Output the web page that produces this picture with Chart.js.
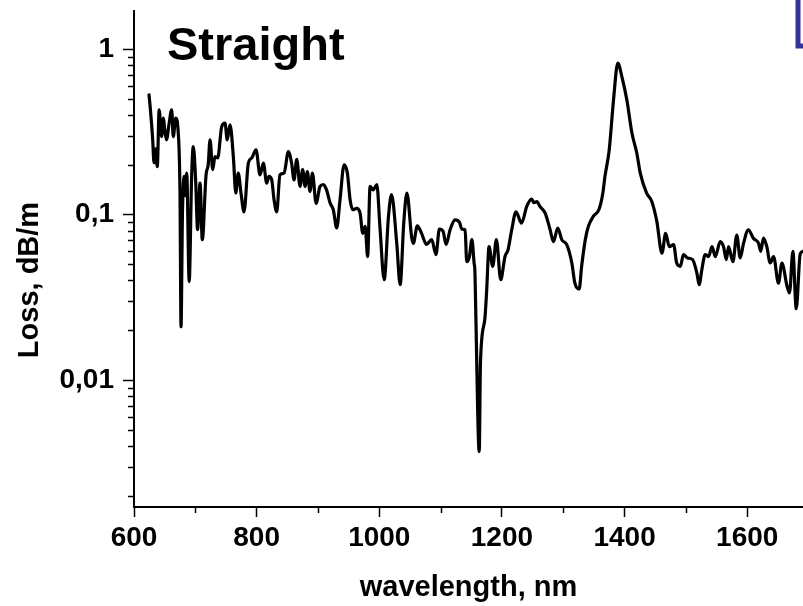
<!DOCTYPE html>
<html>
<head>
<meta charset="utf-8">
<script src="https://cdn.jsdelivr.net/npm/chart.js@4"></script>
<style>
  html, body { margin: 0; padding: 0; background: #fff; }
  #wrap { width: 803px; height: 606px; }
</style>
</head>
<body>
<div id="wrap"><canvas id="myChart" width="803" height="606"></canvas></div>
<script>
// wavelength (nm) and loss (dB/m)
var wavelength = [624.5, 627, 630.5, 632.6, 635, 638, 641, 645, 648, 650, 653, 657, 661.5, 664, 668, 672, 675, 676.7, 679, 682, 684, 686, 690, 694, 696.7, 700.5, 703.7, 707.7, 711.4, 717.5, 721, 724, 728.4, 732, 736.5, 743, 748.5, 752, 756.6, 762, 766, 770, 774.5, 779.4, 786.5, 792, 799, 805.5, 811, 816.4, 820, 824.6, 828.4, 832.8, 838, 844.7, 851.7, 857, 861, 865.4, 870.8, 875, 879, 882.7, 887, 891, 897, 903.4, 909, 914, 920, 925, 930.6, 936, 942.6, 948, 952.4, 957, 963, 968.7, 973, 977, 981, 985, 990, 996, 1001, 1008, 1015, 1020, 1028.5, 1034, 1040, 1045, 1053, 1055.5, 1062, 1069, 1077, 1085.5, 1092.5, 1098, 1104, 1109, 1115.5, 1123.6, 1130.7, 1134.5, 1140, 1142.6, 1147, 1151, 1154.6, 1156, 1157, 1163, 1165, 1172, 1175, 1179, 1185, 1191, 1198, 1205, 1210, 1216, 1223, 1232, 1240.5, 1248.6, 1252, 1257, 1262, 1270.5, 1278.6, 1284, 1291, 1297.6, 1305.7, 1314, 1319, 1326, 1330, 1336, 1341, 1349, 1358.6, 1364.6, 1368, 1375, 1382, 1389, 1395.6, 1403.7, 1412, 1420, 1425.6, 1436, 1444.4, 1452.6, 1461, 1467, 1473, 1480, 1485, 1491, 1496, 1502.6, 1511, 1518, 1521.7, 1526, 1531.5, 1537, 1542.6, 1548, 1556, 1561.4, 1566, 1569.5, 1576.7, 1583, 1588.6, 1594, 1602, 1610, 1618.6, 1622, 1626.6, 1632, 1637.5, 1643, 1651, 1656.6, 1665, 1669, 1674.5, 1680, 1686.5, 1692];
var loss = [0.53, 0.42, 0.283, 0.206, 0.25, 0.195, 0.43, 0.296, 0.383, 0.33, 0.283, 0.35, 0.43, 0.296, 0.383, 0.318, 0.135, 0.021, 0.1, 0.17, 0.13, 0.178, 0.0394, 0.17, 0.258, 0.162, 0.081, 0.155, 0.0705, 0.174, 0.2, 0.283, 0.187, 0.224, 0.22, 0.34, 0.357, 0.283, 0.349, 0.224, 0.135, 0.178, 0.135, 0.104, 0.205, 0.22, 0.246, 0.174, 0.205, 0.155, 0.17, 0.162, 0.123, 0.104, 0.174, 0.178, 0.24, 0.205, 0.162, 0.216, 0.148, 0.187, 0.148, 0.182, 0.138, 0.178, 0.117, 0.148, 0.152, 0.141, 0.117, 0.107, 0.083, 0.123, 0.2, 0.178, 0.123, 0.107, 0.109, 0.102, 0.077, 0.085, 0.0558, 0.148, 0.141, 0.152, 0.085, 0.0404, 0.0975, 0.132, 0.067, 0.0377, 0.09, 0.135, 0.072, 0.067, 0.0855, 0.077, 0.066, 0.0706, 0.0573, 0.0818, 0.0793, 0.066, 0.081, 0.093, 0.09, 0.0818, 0.081, 0.052, 0.0558, 0.0706, 0.051, 0.045, 0.03, 0.0037, 0.0127, 0.0231, 0.034, 0.064, 0.0487, 0.0706, 0.0404, 0.0558, 0.0613, 0.081, 0.104, 0.0887, 0.112, 0.124, 0.118, 0.12, 0.112, 0.102, 0.081, 0.0686, 0.083, 0.0706, 0.0658, 0.051, 0.0385, 0.0355, 0.0487, 0.0706, 0.085, 0.0975, 0.108, 0.135, 0.17, 0.246, 0.494, 0.823, 0.683, 0.494, 0.311, 0.235, 0.178, 0.135, 0.12, 0.091, 0.0585, 0.077, 0.064, 0.0658, 0.051, 0.0487, 0.0573, 0.0547, 0.0534, 0.0442, 0.0377, 0.0464, 0.0573, 0.0558, 0.064, 0.0558, 0.0686, 0.064, 0.0534, 0.064, 0.052, 0.0752, 0.0547, 0.067, 0.081, 0.072, 0.067, 0.06, 0.072, 0.064, 0.051, 0.0558, 0.0385, 0.051, 0.0369, 0.0336, 0.06, 0.027, 0.058, 0.06];

// axis ticks
var xTicks = [600, 800, 1000, 1200, 1400, 1600];
var xMinorTicks = [700, 900, 1100, 1300, 1500];
var yTicks = [0.01, 0.1, 1];
var yTickLabels = ['0,01', '0,1', '1'];
var yMinorTicks = [0.002, 0.003, 0.004, 0.005, 0.006, 0.007, 0.008, 0.009,
                   0.02, 0.03, 0.04, 0.05, 0.06, 0.07, 0.08, 0.09,
                   0.2, 0.3, 0.4, 0.5, 0.6, 0.7, 0.8, 0.9];

var points = wavelength.map(function (w, i) { return { x: w, y: loss[i] }; });

var FONT = '"Liberation Sans", Arial, sans-serif';

// minor ticks, inner title and the clipped legend frame
var extras = {
    id: 'extras',
    afterDraw: function (chart) {
        var ctx = chart.ctx;
        var xs = chart.scales.x, ys = chart.scales.y;
        var area = chart.chartArea;
        ctx.save();
        ctx.strokeStyle = '#000';
        ctx.lineWidth = 1.5;
        ctx.beginPath();
        xMinorTicks.forEach(function (v) {
            var px = Math.round(xs.getPixelForValue(v)) + 0.5;
            ctx.moveTo(px, area.bottom);
            ctx.lineTo(px, area.bottom + 6);
        });
        yMinorTicks.forEach(function (v) {
            var py = Math.round(ys.getPixelForValue(v)) + 0.5;
            ctx.moveTo(area.left, py);
            ctx.lineTo(area.left - 6, py);
        });
        ctx.stroke();

        // y axis title
        ctx.fillStyle = '#000';
        ctx.font = 'bold 29px ' + FONT;
        ctx.textAlign = 'center';
        ctx.textBaseline = 'middle';
        ctx.translate(30, 280);
        ctx.rotate(-Math.PI / 2);
        ctx.fillText('Loss, dB/m', 0, 0);
        ctx.setTransform(1, 0, 0, 1, 0, 0);

        // panel label
        ctx.font = 'bold 47px ' + FONT;
        ctx.textAlign = 'left';
        ctx.textBaseline = 'alphabetic';
        ctx.fillText('Straight', 167, 60);

        // edge of a box cut by the frame
        ctx.strokeStyle = '#33339a';
        ctx.lineWidth = 5;
        ctx.strokeRect(798, -10, 40, 56);
        ctx.restore();
    }
};

var ctx = document.getElementById('myChart').getContext('2d');
var chart = new Chart(ctx, {
    type: 'line',
    data: {
        datasets: [{
            data: points,
            borderColor: '#000',
            borderWidth: 3.2,
            borderJoinStyle: 'round',
            borderCapStyle: 'round',
            pointRadius: 0,
            tension: 0.25,
            cubicInterpolationMode: 'monotone',
            fill: false
        }]
    },
    options: {
        responsive: false,
        animation: false,
        layout: { padding: { top: 11, right: 0, bottom: 0, left: 0 } },
        plugins: { legend: { display: false }, tooltip: { enabled: false } },
        scales: {
            x: {
                type: 'linear',
                min: 600,
                max: 1691,
                afterBuildTicks: function (scale) {
                    scale.ticks = xTicks.map(function (v) { return { value: v }; });
                },
                afterFit: function (scale) {
                    scale.height = 99;
                    scale.paddingLeft = 0;
                    scale.paddingRight = 0;
                },
                ticks: {
                    color: '#000',
                    padding: 7,
                    maxRotation: 0,
                    font: { family: FONT, size: 28, weight: 'bold', lineHeight: 1 },
                    callback: function (value) { return String(value); }
                },
                grid: { drawOnChartArea: false, tickLength: 10, tickColor: '#000', tickWidth: 1.5 },
                border: { display: true, color: '#000', width: 2 },
                title: {
                    display: true,
                    text: 'wavelength, nm',
                    color: '#000',
                    padding: { top: 0, bottom: 4 },
                    font: { family: FONT, size: 29, weight: 'bold', lineHeight: 1 }
                }
            },
            y: {
                type: 'logarithmic',
                min: 0.00171,
                max: 1.70,
                afterBuildTicks: function (scale) {
                    scale.ticks = yTicks.map(function (v) { return { value: v }; });
                },
                afterFit: function (scale) {
                    scale.width = 134;
                    scale.paddingTop = 0;
                    scale.paddingBottom = 0;
                },
                ticks: {
                    color: '#000',
                    padding: 9,
                    font: { family: FONT, size: 28, weight: 'bold', lineHeight: 1 },
                    callback: function (value) {
                        var i = yTicks.indexOf(value);
                        return i >= 0 ? yTickLabels[i] : '';
                    }
                },
                grid: { drawOnChartArea: false, tickLength: 11, tickColor: '#000', tickWidth: 1.5 },
                border: { display: true, color: '#000', width: 2 }
            }
        }
    },
    plugins: [extras]
});
</script>
</body>
</html>
